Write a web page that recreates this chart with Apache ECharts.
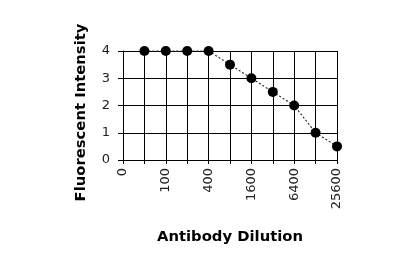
<!DOCTYPE html>
<html>
<head>
<meta charset="utf-8">
<script src="https://cdn.jsdelivr.net/npm/echarts@6/dist/echarts.min.js"></script>
<style>
html,body{margin:0;padding:0;background:#fff;}
#chart{width:420px;height:275px;}
</style>
</head>
<body>
<div id="chart"></div>
<script>
var categories = ['0','50','100','200','400','800','1600','3200','6400','12800','25600'];
var intensity = ['-',4,4,4,4,3.5,3,2.5,2,1,0.5];
var yTicks = [0,1,2,3,4];
var xTitle = 'Antibody Dilution';
var yTitle = 'Fluorescent Intensity';

var chart = echarts.init(document.getElementById('chart'), null, {renderer:'canvas'});
chart.setOption({
  animation: false,
  backgroundColor: '#fff',
  grid: {left: 123, right: 83, top: 51, bottom: 115, containLabel: false},
  xAxis: {
    type: 'category',
    data: categories,
    boundaryGap: false,
    name: xTitle,
    nameLocation: 'middle',
    nameGap: 70,
    nameTextStyle: {fontFamily: 'DejaVu Sans', fontWeight: 'bold', fontSize: 14.8, color: '#000'},
    axisLine: {show: true, lineStyle: {color: '#000', width: 1}},
    axisTick: {show: true, interval: 0, length: 4, inside: false, lineStyle: {color: '#000'}},
    axisLabel: {interval: 1, rotate: 90, margin: 8, fontFamily: 'DejaVu Sans', fontSize: 13, color: '#222'},
    splitLine: {show: true, interval: 0, lineStyle: {color: '#000', width: 1}}
  },
  yAxis: {
    type: 'value',
    min: yTicks[0],
    max: yTicks[yTicks.length-1],
    interval: 1,
    name: yTitle,
    nameLocation: 'middle',
    nameRotate: 90,
    nameGap: 34,
    nameTextStyle: {fontFamily: 'DejaVu Sans', fontWeight: 'bold', fontSize: 14.8, color: '#000', padding: [0,14,0,0]},
    axisLine: {show: true, lineStyle: {color: '#000', width: 1}},
    axisTick: {show: true, length: 5, inside: false, lineStyle: {color: '#000'}},
    axisLabel: {margin: 13, fontFamily: 'DejaVu Sans', fontSize: 13, color: '#222'},
    splitLine: {show: true, lineStyle: {color: '#000', width: 1}}
  },
  series: [{
    type: 'line',
    data: intensity,
    symbol: 'circle',
    symbolSize: 10,
    showAllSymbol: true,
    clip: false,
    itemStyle: {color: '#000'},
    lineStyle: {color: '#333', width: 1.2, type: [2, 2]}
  }]
});
</script>
</body>
</html>
